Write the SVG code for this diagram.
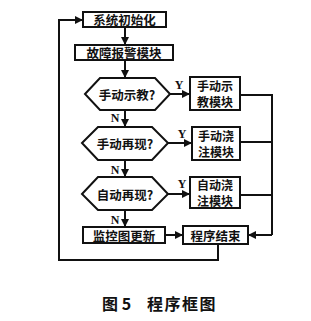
<svg xmlns="http://www.w3.org/2000/svg" width="311" height="321" viewBox="0 0 311 321">
<defs>
<marker id="ah" viewBox="0 0 10 10" refX="10" refY="5" markerWidth="4" markerHeight="4" orient="auto" markerUnits="strokeWidth">
<path d="M0,0 L10,5 L0,10 z" fill="#111"/>
</marker>
<style>
.b{fill:#fff;stroke:#111;stroke-width:2}
.t{font-family:"Noto Sans CJK SC","Noto Sans CJK JP",sans-serif;font-size:12.5px;font-weight:bold;fill:#111;text-anchor:middle;dominant-baseline:central}
.s{font-family:"Noto Sans CJK SC","Noto Sans CJK JP",sans-serif;font-size:12px;font-weight:bold;fill:#111;text-anchor:middle;dominant-baseline:central}
.l{font-family:"Liberation Serif",serif;font-size:12px;font-weight:bold;fill:#111;text-anchor:middle;dominant-baseline:central}
.c{fill:none;stroke:#111;stroke-width:2}
.a{fill:none;stroke:#111;stroke-width:2;marker-end:url(#ah)}
</style>
</defs>
<rect width="311" height="321" fill="#fff"/>
<g id="connectors">
<line class="a" x1="125" y1="27" x2="125" y2="45"/>
<line class="a" x1="125" y1="60" x2="125" y2="78"/>
<line class="a" x1="125" y1="110" x2="125" y2="127"/>
<line class="a" x1="125" y1="160" x2="125" y2="177"/>
<line class="a" x1="125" y1="210" x2="125" y2="227"/>
<line class="a" x1="170" y1="94" x2="190" y2="94"/>
<line class="a" x1="168" y1="143" x2="192" y2="143"/>
<line class="a" x1="168" y1="194" x2="190" y2="194"/>
<line class="a" x1="165" y1="235" x2="183" y2="235"/>
<polyline class="c" points="240,95 272,95 272,235"/>
<line class="c" x1="240" y1="142" x2="272" y2="142"/>
<line class="c" x1="240" y1="195" x2="272" y2="195"/>
<line class="a" x1="272" y1="235" x2="248" y2="235"/>
<polyline class="a" points="218,244 218,260 59,260 59,20 83,20"/>
</g>
<g id="n1"><rect class="b" x="83" y="12" width="83" height="15"/><text class="t" x="124.5" y="19.5">系统初始化</text></g>
<g id="n2"><rect class="b" x="75" y="45" width="98" height="15"/><text class="t" x="124" y="52.5">故障报警模块</text></g>
<g id="d1"><polygon class="b" points="85,94 100,78 155,78 170,94 155,110 100,110"/><text class="t" x="127" y="94">手动示教?</text></g>
<g id="m1"><rect class="b" x="190" y="77" width="50" height="33"/><text class="s" x="215" y="85.5">手动示</text><text class="s" x="215" y="101.5">教模块</text></g>
<g id="d2"><polygon class="b" points="82,143 98,127 152,127 168,143 152,160 98,160"/><text class="t" x="125" y="143">手动再现?</text></g>
<g id="m2"><rect class="b" x="192" y="127" width="48" height="33"/><text class="s" x="216" y="135.5">手动浇</text><text class="s" x="216" y="151.5">注模块</text></g>
<g id="d3"><polygon class="b" points="82,194 98,177 152,177 168,194 152,210 98,210"/><text class="t" x="125" y="194">自动再现?</text></g>
<g id="m3"><rect class="b" x="190" y="177" width="50" height="31"/><text class="s" x="215" y="184.5">自动浇</text><text class="s" x="215" y="200.5">注模块</text></g>
<g id="n3"><rect class="b" x="83" y="227" width="82" height="16"/><text class="t" x="124" y="235">监控图更新</text></g>
<g id="n4"><rect class="b" x="183" y="226" width="65" height="18"/><text class="t" x="215.5" y="235">程序结束</text></g>
<g id="labels">
<text class="l" x="179" y="85">Y</text>
<text class="l" x="115" y="118">N</text>
<text class="l" x="182" y="134">Y</text>
<text class="l" x="115" y="170">N</text>
<text class="l" x="182" y="184">Y</text>
<text class="l" x="115" y="220">N</text>
</g>
<text x="102" y="303" font-family="'Noto Sans CJK SC',sans-serif" font-size="16" font-weight="bold" fill="#111" dominant-baseline="central">图 5</text>
<text x="147" y="303" font-family="'Noto Sans CJK SC',sans-serif" font-size="16" font-weight="bold" fill="#111" dominant-baseline="central" letter-spacing="1.5">程序框图</text>
</svg>
